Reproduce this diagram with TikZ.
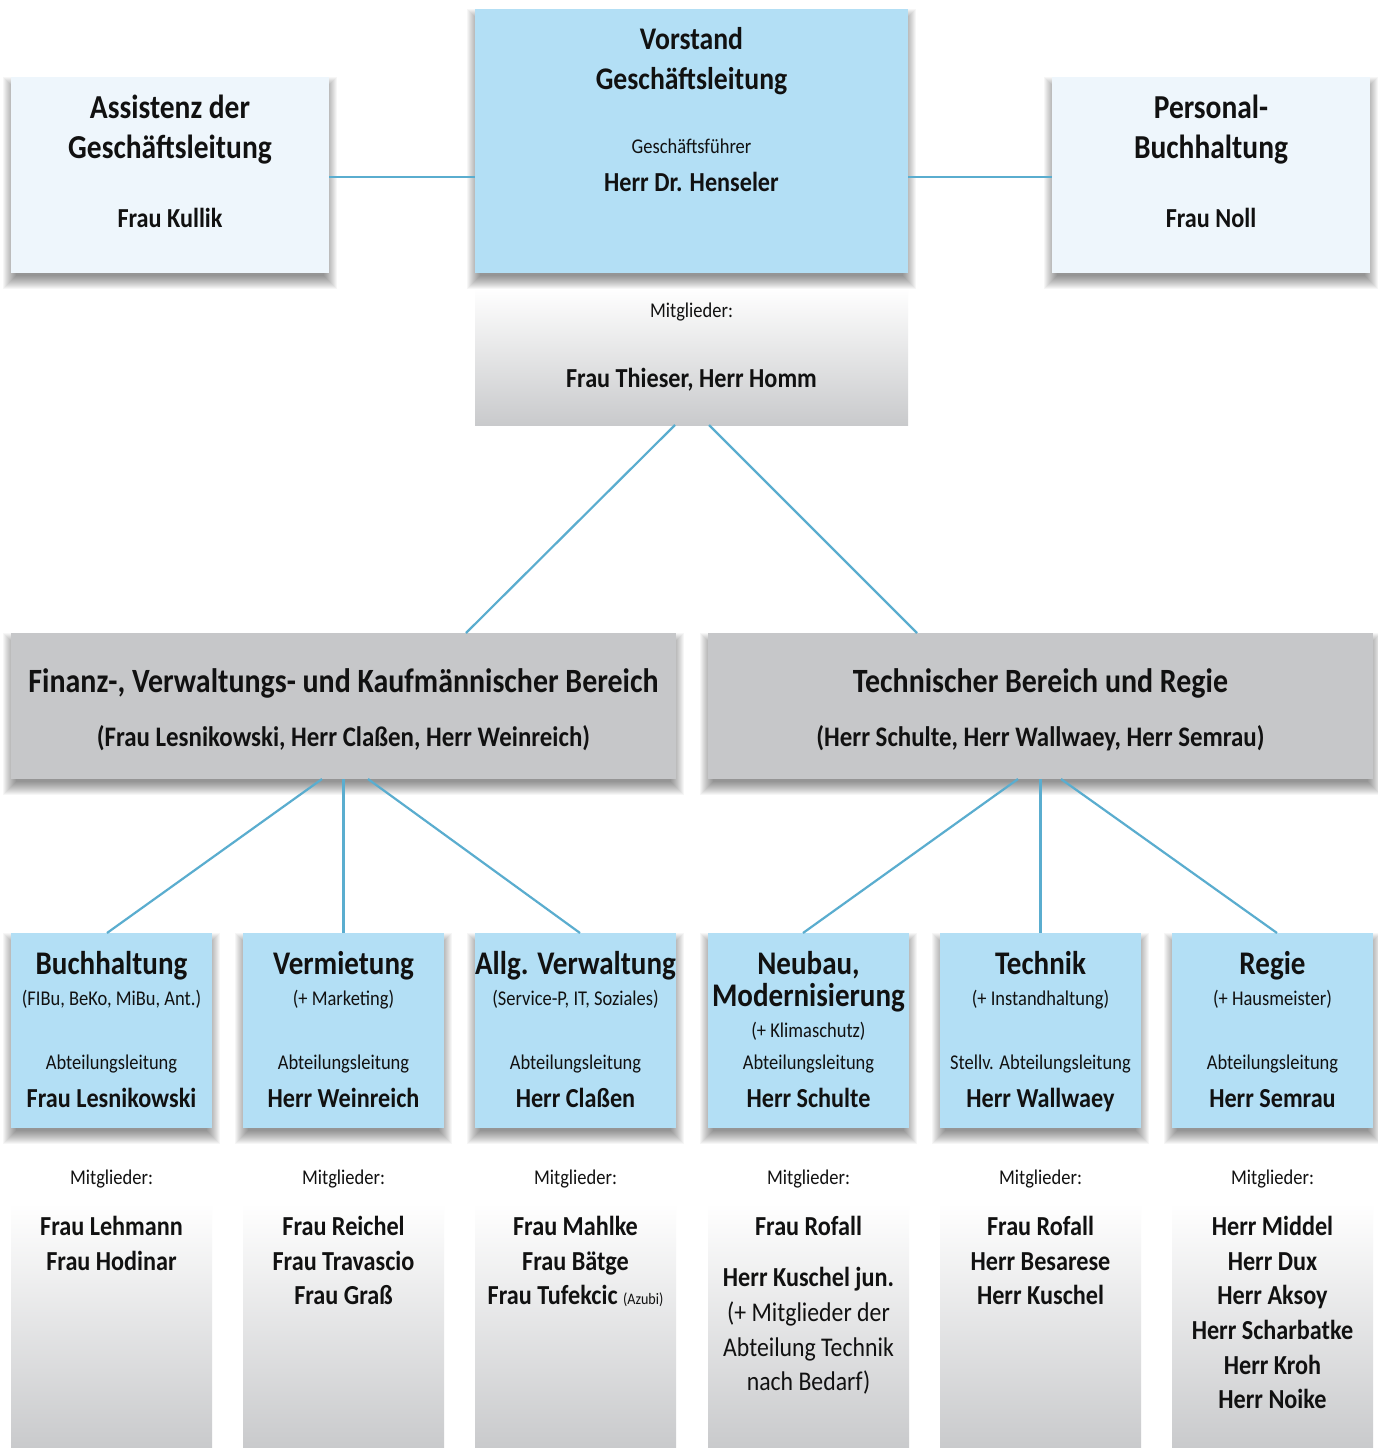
\documentclass[tikz,border=0pt]{standalone}
\usepackage{fontspec}
\setmainfont{Carlito}[FakeStretch=0.88]
\pgfdeclarelayer{bg}
\pgfdeclarelayer{shad}
\pgfsetlayers{bg,shad,main}
\definecolor{boxblue}{RGB}{179,223,245}
\definecolor{boxpale}{RGB}{238,246,252}
\definecolor{boxgray}{RGB}{198,199,201}
\definecolor{linkblue}{RGB}{90,173,207}
\definecolor{memgray}{RGB}{201,202,204}
\definecolor{memmid}{RGB}{237,238,239}
\definecolor{txt}{RGB}{17,17,17}
\tikzset{
  box/.style={draw=none, inner sep=0pt, outer sep=0pt},
  sidebox/.style={box, fill=boxpale, minimum width=318pt, minimum height=196pt},
  areabox/.style={box, fill=boxgray, minimum width=665pt, minimum height=146pt},
  deptbox/.style={box, fill=boxblue, minimum width=201pt, minimum height=195pt},
  membox/.style={draw=none, inner sep=0pt, outer sep=0pt, top color=white, middle color=memmid, bottom color=memgray},
  deptmem/.style={membox, minimum width=201pt, minimum height=245pt},
  shadowlayer/.style={fill=black, opacity=0.034, draw=none},
  link/.style={draw=linkblue, line width=2.2pt},
  tx/.style={inner sep=0pt, anchor=base, text=txt},
  ttl/.style={tx, font=\fontsize{33.5}{36}\selectfont\bfseries},
  dtl/.style={tx, font=\fontsize{33}{36}\selectfont\bfseries},
  vtl/.style={tx, font=\fontsize{31.5}{34}\selectfont\bfseries},
  btl/.style={tx, font=\fontsize{34}{37}\selectfont\bfseries},
  nm/.style={tx, font=\fontsize{27.5}{30}\selectfont\bfseries},
  bsub/.style={tx, font=\fontsize{28.3}{31}\selectfont\bfseries},
  lt/.style={tx, font=\fontsize{21}{24}\selectfont},
  ltb/.style={tx, font=\fontsize{27}{30}\selectfont},
}
\newcommand\boxshadow[1]{%
  \begin{pgfonlayer}{shad}
  \foreach \k [evaluate=\k as \sa using 5-\k, evaluate=\k as \sb using \k-13,
               evaluate=\k as \sc using \k-5, evaluate=\k as \se using -\k-3] in {0,...,13}
    \fill[shadowlayer] ([xshift=\sa pt, yshift=\sb pt]#1.north west) rectangle ([xshift=\sc pt, yshift=\se pt]#1.south east);
  \end{pgfonlayer}}
\begin{document}
\begin{tikzpicture}[x=1pt,y=-1pt]
\useasboundingbox (0,0) rectangle (1378,1448);

% background and member boxes
\begin{pgfonlayer}{bg}
\fill[white] (0,0) rectangle (1378,1448);
\node[membox, minimum width=433pt, minimum height=137pt] (vm) at (691.5,356.5) {};
\node[deptmem] (m1) at (111.5,1325.5) {};
\node[deptmem] (m2) at (343.5,1325.5) {};
\node[deptmem] (m3) at (575.5,1325.5) {};
\node[deptmem] (m4) at (808.5,1325.5) {};
\node[deptmem] (m5) at (1040.5,1325.5) {};
\node[deptmem] (m6) at (1272.5,1325.5) {};
\end{pgfonlayer}

% boxes
\node[sidebox] (ass) at (170,175) {};
\node[box, fill=boxblue, minimum width=433pt, minimum height=264pt] (vor) at (691.5,141) {};
\node[sidebox] (per) at (1211,175) {};
\node[areabox] (fin) at (343.5,706) {};
\node[areabox] (tec) at (1040.5,706) {};
\node[deptbox] (d1) at (111.5,1030.5) {};
\node[deptbox] (d2) at (343.5,1030.5) {};
\node[deptbox] (d3) at (575.5,1030.5) {};
\node[deptbox] (d4) at (808.5,1030.5) {};
\node[deptbox] (d5) at (1040.5,1030.5) {};
\node[deptbox] (d6) at (1272.5,1030.5) {};

% shadows
\boxshadow{ass}\boxshadow{vor}\boxshadow{per}
\boxshadow{fin}\boxshadow{tec}
\boxshadow{d1}\boxshadow{d2}\boxshadow{d3}\boxshadow{d4}\boxshadow{d5}\boxshadow{d6}

% connectors
\coordinate (hl) at (0,177);
\draw[link] (ass.east |- hl) -- (vor.west |- hl);
\draw[link] (vor.east |- hl) -- (per.west |- hl);
\draw[link] ([xshift=-16.5pt]vm.south) -- ([xshift=122.5pt]fin.north);
\draw[link] ([xshift=17.5pt]vm.south) -- ([xshift=-123.5pt]tec.north);
\draw[link] ([xshift=-21.5pt]fin.south) -- ([xshift=-4.5pt]d1.north);
\draw[link] (fin.south) -- (d2.north);
\draw[link] ([xshift=24.5pt]fin.south) -- ([xshift=4.5pt]d3.north);
\draw[link] ([xshift=-22.5pt]tec.south) -- ([xshift=-5.5pt]d4.north);
\draw[link] (tec.south) -- (d5.north);
\draw[link] ([xshift=20.5pt]tec.south) -- ([xshift=4.5pt]d6.north);

% top texts
\node[ttl] (ass1) at (170,118) {Assistenz der};
\node[ttl] (ass2) at (170,158) {Geschäftsleitung};
\node[nm] (ass3) at (170,227) {Frau Kullik};
\node[ttl] (per1) at (1211,118) {Personal-};
\node[ttl] (per2) at (1211,158) {Buchhaltung};
\node[nm] (per3) at (1211,227) {Frau Noll};
\node[vtl] (vor1) at (691.5,49) {Vorstand};
\node[vtl] (vor2) at (691.5,89) {Geschäftsleitung};
\node[lt] (vor3) at (691.5,153) {Geschäftsführer};
\node[nm] (vor4) at (691.5,191) {Herr Dr. Henseler};
\node[lt] (vm1) at (691.5,317) {Mitglieder:};
\node[nm] (vm2) at (691.5,387) {Frau Thieser, Herr Homm};

% area texts
\node[btl] (fin1) at (343.5,692) {Finanz-, Verwaltungs- und Kaufmännischer Bereich};
\node[bsub] (fin2) at (343.5,746) {(Frau Lesnikowski, Herr Claßen, Herr Weinreich)};
\node[btl] (tec1) at (1040.5,692) {Technischer Bereich und Regie};
\node[bsub] (tec2) at (1040.5,746) {(Herr Schulte, Herr Wallwaey, Herr Semrau)};

% dept 1
\node[dtl] (d1a) at (111.5,974) {Buchhaltung};
\node[lt] (d1b) at (111.5,1005) {(FIBu, BeKo, MiBu, Ant.)};
\node[lt] (d1c) at (111.5,1069) {Abteilungsleitung};
\node[nm] (d1d) at (111.5,1107) {Frau Lesnikowski};
\node[lt] (m1a) at (111.5,1184) {Mitglieder:};
\node[nm] (m1b) at (111.5,1235) {Frau Lehmann};
\node[nm] (m1c) at (111.5,1270) {Frau Hodinar};

% dept 2
\node[dtl] (d2a) at (343.5,974) {Vermietung};
\node[lt] (d2b) at (343.5,1005) {(+ Marketing)};
\node[lt] (d2c) at (343.5,1069) {Abteilungsleitung};
\node[nm] (d2d) at (343.5,1107) {Herr Weinreich};
\node[lt] (m2a) at (343.5,1184) {Mitglieder:};
\node[nm] (m2b) at (343.5,1235) {Frau Reichel};
\node[nm] (m2c) at (343.5,1270) {Frau Travascio};
\node[nm] (m2d) at (343.5,1304) {Frau Graß};

% dept 3
\node[dtl] (d3a) at (575.5,974) {Allg. Verwaltung};
\node[lt] (d3b) at (575.5,1005) {(Service-P, IT, Soziales)};
\node[lt] (d3c) at (575.5,1069) {Abteilungsleitung};
\node[nm] (d3d) at (575.5,1107) {Herr Claßen};
\node[lt] (m3a) at (575.5,1184) {Mitglieder:};
\node[nm] (m3b) at (575.5,1235) {Frau Mahlke};
\node[nm] (m3c) at (575.5,1270) {Frau Bätge};
\node[nm] (m3d) at (575.5,1304) {Frau Tufekcic {\fontsize{16}{18}\selectfont\mdseries (Azubi)}};

% dept 4
\node[dtl] (d4a) at (808.5,974) {Neubau,};
\node[dtl] (d4b) at (808.5,1006) {Modernisierung};
\node[lt] (d4c) at (808.5,1037) {(+ Klimaschutz)};
\node[lt] (d4d) at (808.5,1069) {Abteilungsleitung};
\node[nm] (d4e) at (808.5,1107) {Herr Schulte};
\node[lt] (m4a) at (808.5,1184) {Mitglieder:};
\node[nm] (m4b) at (808.5,1235) {Frau Rofall};
\node[nm] (m4c) at (808.5,1286) {Herr Kuschel jun.};
\node[ltb] (m4d) at (808.5,1321) {(+ Mitglieder der};
\node[ltb] (m4e) at (808.5,1356) {Abteilung Technik};
\node[ltb] (m4f) at (808.5,1390) {nach Bedarf)};

% dept 5
\node[dtl] (d5a) at (1040.5,974) {Technik};
\node[lt] (d5b) at (1040.5,1005) {(+ Instandhaltung)};
\node[lt] (d5c) at (1040.5,1069) {Stellv. Abteilungsleitung};
\node[nm] (d5d) at (1040.5,1107) {Herr Wallwaey};
\node[lt] (m5a) at (1040.5,1184) {Mitglieder:};
\node[nm] (m5b) at (1040.5,1235) {Frau Rofall};
\node[nm] (m5c) at (1040.5,1270) {Herr Besarese};
\node[nm] (m5d) at (1040.5,1304) {Herr Kuschel};

% dept 6
\node[dtl] (d6a) at (1272.5,974) {Regie};
\node[lt] (d6b) at (1272.5,1005) {(+ Hausmeister)};
\node[lt] (d6c) at (1272.5,1069) {Abteilungsleitung};
\node[nm] (d6d) at (1272.5,1107) {Herr Semrau};
\node[lt] (m6a) at (1272.5,1184) {Mitglieder:};
\node[nm] (m6b) at (1272.5,1235) {Herr Middel};
\node[nm] (m6c) at (1272.5,1270) {Herr Dux};
\node[nm] (m6d) at (1272.5,1304) {Herr Aksoy};
\node[nm] (m6e) at (1272.5,1339) {Herr Scharbatke};
\node[nm] (m6f) at (1272.5,1374) {Herr Kroh};
\node[nm] (m6g) at (1272.5,1408) {Herr Noike};
\end{tikzpicture}
\end{document}
